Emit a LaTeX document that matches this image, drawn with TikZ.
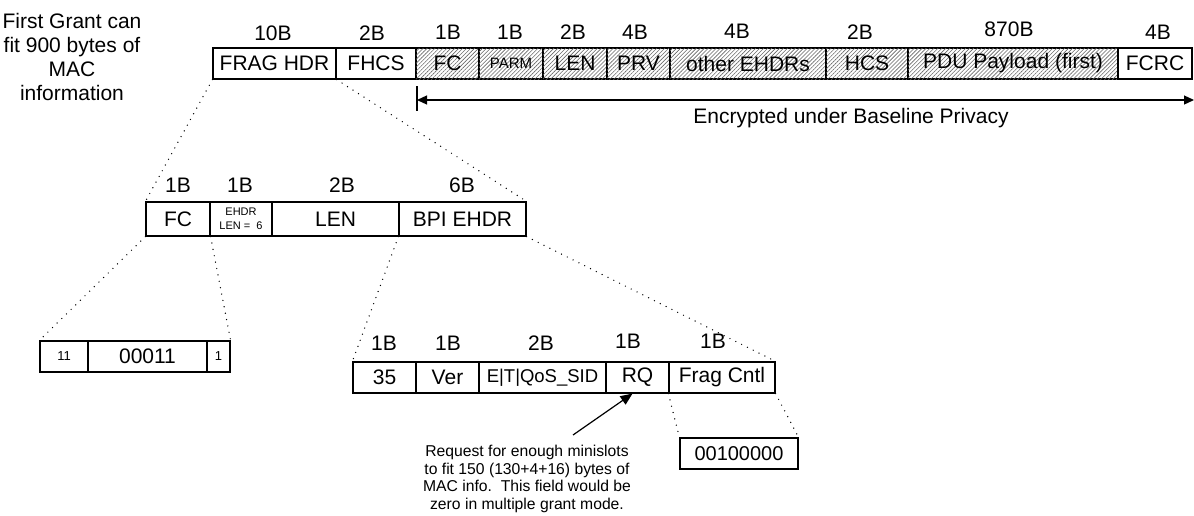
\documentclass[tikz,border=0pt]{standalone}
\usepackage{fontspec}
\setmainfont{Liberation Sans}
\usetikzlibrary{arrows.meta,patterns.meta}
\newcommand\mkfield[7]{%
  \node[fld,minimum width={#3pt-#2pt},minimum height={#5pt-#4pt},#6] (#1) at ({(#2+#3)/2},{(#4+#5)/2}) {#7};}
\begin{document}
\begin{tikzpicture}[x=1pt,y=-1pt,
  fld/.style={draw,line width=1.2pt,inner sep=0pt,align=center,font=\fontsize{21}{25}\selectfont},
  hat/.style={postaction={pattern={Lines[angle=45,distance=2.8pt,line width=0.6pt]},pattern color=black!60}},
  lab/.style={inner sep=0pt,font=\fontsize{21}{25}\selectfont},
  dots/.style={line width=1.4pt,dash pattern=on 0pt off 6.5pt,line cap=round},
  arr/.style={line width=1.2pt}]
\useasboundingbox (0,0) rectangle (1194,515);
% left note
\node[lab,align=center,font=\fontsize{21}{23.8}\selectfont] (note) at (72,57) {First Grant can\\fit 900 bytes of\\MAC\\information};
% top row
\mkfield{frag}{213}{336}{48}{79}{}{FRAG HDR}
\mkfield{fhcs}{336}{416}{48}{79}{}{FHCS}
\mkfield{fc}{416}{479}{48}{79}{hat}{FC}
\mkfield{parm}{479}{543}{48}{79}{hat,font=\fontsize{15}{17}\selectfont}{PARM}
\mkfield{len}{543}{607}{48}{79}{hat}{LEN}
\mkfield{prv}{607}{670}{48}{79}{hat}{PRV}
\mkfield{oth}{670}{826}{48}{79}{hat}{other EHDRs}
\mkfield{hcs}{826}{908}{48}{79}{hat}{HCS}
\mkfield{pdu}{908}{1118}{48}{79}{hat}{PDU Payload (first)}
\mkfield{fcrc}{1118}{1192}{48}{79}{}{FCRC}
\node[lab] (l1) at (273,33) {10B};
\node[lab] (l2) at (372,33) {2B};
\node[lab] (l3) at (448,32) {1B};
\node[lab] (l4) at (510,32) {1B};
\node[lab] (l5) at (573,32) {2B};
\node[lab] (l6) at (635,32) {4B};
\node[lab] (l7) at (737,31) {4B};
\node[lab] (l8) at (860,32) {2B};
\node[lab] (l9) at (1009,29) {870B};
\node[lab] (l10) at (1158,32) {4B};
% encryption span
\coordinate (encL) at (417,100);
\coordinate (encR) at (1194,100);
\coordinate (tickT) at (417,86);
\coordinate (tickB) at (417,111);
\draw[arr] (tickT) -- (tickB);
\draw[arr,{Triangle[length=10pt,width=9pt]}-{Triangle[length=10pt,width=9pt]}] (encL) -- (encR);
\node[lab] (enc) at (851,118) {Encrypted under Baseline Privacy};
% second row
\mkfield{fc2}{146}{210}{202}{236}{}{FC}
\mkfield{ehdr}{210}{272}{202}{236}{font=\fontsize{11}{14}\selectfont}{EHDR\\LEN =\ \ 6}
\mkfield{len2}{272}{399}{202}{236}{}{LEN}
\mkfield{bpi}{399}{526}{202}{236}{}{BPI EHDR}
\node[lab] (m1) at (178,185) {1B};
\node[lab] (m2) at (240,185) {1B};
\node[lab] (m3) at (342,185) {2B};
\node[lab] (m4) at (462,185) {6B};
% third row left
\mkfield{b11}{40}{88}{341}{372}{font=\fontsize{13}{15}\selectfont}{11}
\mkfield{b00011}{88}{207}{341}{372}{}{00011}
\mkfield{b1}{207}{230}{341}{372}{font=\fontsize{13}{15}\selectfont}{1}
% third row middle
\mkfield{f35}{353}{416}{362}{393}{}{35}
\mkfield{ver}{416}{479}{362}{393}{}{Ver}
\mkfield{qos}{479}{606}{362}{393}{font=\fontsize{18.5}{22}\selectfont}{E|T|QoS\_SID}
\mkfield{rq}{606}{669}{362}{393}{}{RQ}
\mkfield{fragc}{669}{775}{362}{393}{}{Frag Cntl}
\node[lab] (n1) at (384,343) {1B};
\node[lab] (n2) at (448,343) {1B};
\node[lab] (n3) at (541,343) {2B};
\node[lab] (n4) at (628,341) {1B};
\node[lab] (n5) at (713,341) {1B};
% frag control bits
\mkfield{fcb}{680}{798}{438}{469}{font=\fontsize{20}{22}\selectfont}{00100000}
% callout
\node[align=center,inner sep=0pt,font=\fontsize{15.7}{17.5}\selectfont] (call) at (527,479)
  {Request for enough minislots\\to fit 150 (130+4+16) bytes of\\MAC info.\ \ This field would be\\zero in multiple grant mode.};
\coordinate (rqtail) at (573,435);
\draw[arr,-{Triangle[length=12pt,width=10pt]}] (rqtail) -- ([xshift=-5pt]rq.south);
% dotted expansions
\draw[dots] (frag.south west) -- (fc2.north west);
\draw[dots] (frag.south east) -- (bpi.north east);
\draw[dots] (fc2.south west) -- (b11.north west);
\draw[dots] (fc2.south east) -- (b1.north east);
\draw[dots] (bpi.south west) -- (f35.north west);
\draw[dots] (bpi.south east) -- (fragc.north east);
\draw[dots] (fragc.south west) -- (fcb.north west);
\draw[dots] (fragc.south east) -- (fcb.north east);
\end{tikzpicture}
\end{document}
